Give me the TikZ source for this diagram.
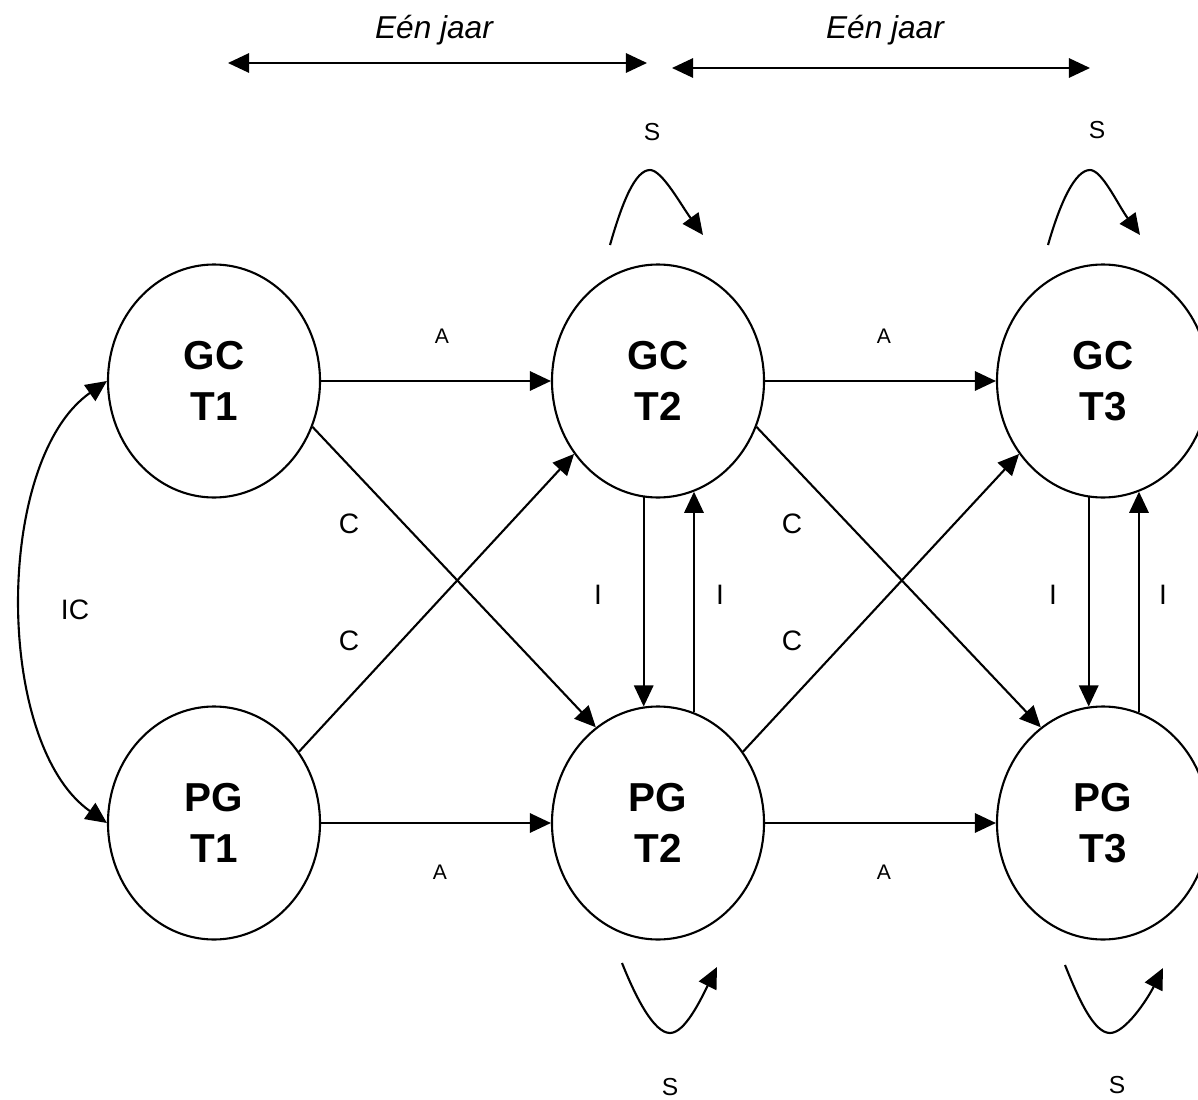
\documentclass[tikz,border=0pt]{standalone}
\usepackage{fontspec}
\setmainfont{Liberation Sans}
\usetikzlibrary{arrows.meta,shapes.geometric}
\begin{document}
\begin{tikzpicture}[
  wave/.style={shape=ellipse, draw=black, line width=0.6pt, minimum width=2.12cm, minimum height=2.33cm, inner sep=0pt, align=center, font=\fontsize{11.5}{14.5}\selectfont\bfseries},
  lag/.style={-{Triangle[length=6pt,width=5.5pt]}, line width=0.6pt, draw=black},
  span/.style={{Triangle[length=6pt,width=5.5pt]}-{Triangle[length=6pt,width=5.5pt]}, line width=0.6pt, draw=black},
  year/.style={font=\fontsize{9}{11}\selectfont\itshape},
  tagA/.style={font=\fontsize{6}{7}\selectfont},
  tagC/.style={font=\fontsize{8}{10}\selectfont},
  tagS/.style={font=\fontsize{7}{9}\selectfont}
]
\clip (0,0) rectangle (11.98,-11.00);
% time spans
\node[year] (y1) at (4.34,-0.30) {Eén jaar};
\node[year] (y2) at (8.85,-0.30) {Eén jaar};
\coordinate (y1a) at (2.28,-0.63);
\coordinate (y1b) at (6.47,-0.63);
\coordinate (y2a) at (6.72,-0.68);
\coordinate (y2b) at (10.90,-0.68);
\path (y1a) edge [span] (y1b);
\path (y2a) edge [span] (y2b);
% waves
\node[wave] (gc1) at (2.14,-3.81) {GC\\T1};
\node[wave] (pg1) at (2.14,-8.23) {PG\\T1};
\node[wave] (gc2) at (6.58,-3.81) {GC\\T2};
\node[wave] (pg2) at (6.58,-8.23) {PG\\T2};
\node[wave] (gc3) at (11.03,-3.81) {GC\\T3};
\node[wave] (pg3) at (11.03,-8.23) {PG\\T3};
% autoregressive
\path (gc1) edge [lag] (gc2);
\path (gc2) edge [lag] (gc3);
\path (pg1) edge [lag] (pg2);
\path (pg2) edge [lag] (pg3);
% cross-lagged
\path (gc1.-25) edge [lag] (pg2.123);
\path (pg1.40) edge [lag] (gc2.221);
\path (gc2.-25) edge [lag] (pg3.123);
\path (pg2.40) edge [lag] (gc3.221);
% within wave
\path (gc2.263) edge [lag] (pg2.97);
\path (pg2.72) edge [lag] (gc2.288);
\path (gc3.263) edge [lag] (pg3.97);
\path (pg3.72) edge [lag] (gc3.288);
% initial correlation
\path (gc1.west) edge [span, out=215, in=145, looseness=0.8] (pg1.west);
% stability loops
\coordinate (s2a) at (6.10,-2.45);
\coordinate (s2b) at (6.50,-1.70);
\coordinate (s2c) at (7.03,-2.35);
\coordinate (s3a) at (10.48,-2.45);
\coordinate (s3b) at (10.90,-1.70);
\coordinate (s3c) at (11.40,-2.35);
\coordinate (t2a) at (6.22,-9.63);
\coordinate (t2b) at (6.70,-10.33);
\coordinate (t2c) at (7.17,-9.67);
\coordinate (t3a) at (10.65,-9.65);
\coordinate (t3b) at (11.10,-10.33);
\coordinate (t3c) at (11.63,-9.68);
\draw [lag] (s2a) .. controls ++(0.12,0.42) and ++(-0.15,0) .. (s2b) .. controls ++(0.12,0) and ++(-0.22,0.3) .. (s2c);
\draw [lag] (s3a) .. controls ++(0.12,0.42) and ++(-0.15,0) .. (s3b) .. controls ++(0.12,0) and ++(-0.22,0.3) .. (s3c);
\draw [lag] (t2a) .. controls ++(0.14,-0.35) and ++(-0.16,0) .. (t2b) .. controls ++(0.15,0) and ++(-0.16,-0.32) .. (t2c);
\draw [lag] (t3a) .. controls ++(0.14,-0.35) and ++(-0.16,0) .. (t3b) .. controls ++(0.15,0) and ++(-0.16,-0.32) .. (t3c);
% labels
\node[tagS] (ls2) at (6.52,-1.32) {S};
\node[tagS] (ls3) at (10.97,-1.30) {S};
\node[tagS] (lt2) at (6.70,-10.87) {S};
\node[tagS] (lt3) at (11.17,-10.85) {S};
\node[tagA] (la1) at (4.42,-3.36) {A};
\node[tagA] (la2) at (8.84,-3.36) {A};
\node[tagA] (lb1) at (4.40,-8.72) {A};
\node[tagA] (lb2) at (8.84,-8.72) {A};
\node[tagC] (lc1) at (3.49,-5.24) {C};
\node[tagC] (lc2) at (3.49,-6.41) {C};
\node[tagC] (lc3) at (7.92,-5.24) {C};
\node[tagC] (lc4) at (7.92,-6.41) {C};
\node[tagC] (li1) at (5.98,-5.95) {I};
\node[tagC] (li2) at (7.20,-5.95) {I};
\node[tagC] (li3) at (10.53,-5.95) {I};
\node[tagC] (li4) at (11.63,-5.95) {I};
\node[tagC] (lic) at (0.75,-6.10) {IC};
\end{tikzpicture}
\end{document}
